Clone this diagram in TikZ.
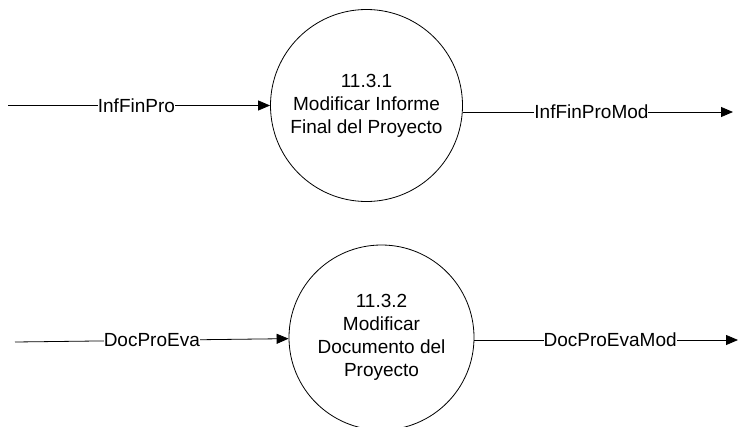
\documentclass[tikz,border=0pt]{standalone}
\usepackage{fontspec}
\setmainfont{Liberation Sans}
\usetikzlibrary{arrows.meta}
\begin{document}
\begin{tikzpicture}[x=1pt,y=-1pt,
  proc/.style={draw=black,line width=0.8pt,circle,align=center,
    font=\fontsize{19}{23}\selectfont},
  flow/.style={draw=black,line width=0.8pt,-{Triangle[length=12pt,width=10pt]}},
  flowlabel/.style={fill=white,inner sep=0pt,font=\fontsize{19}{23}\selectfont}]
\useasboundingbox (0,0) rectangle (741,426);
\clip (0,0) rectangle (741,426);
\node[proc,minimum size=192pt] (c1) at (366.5,105.5) {11.3.1\\Modificar Informe\\Final del Proyecto};
\node[proc,minimum size=185pt] (c2) at (381.5,337.5) {11.3.2\\Modificar\\Documento del\\Proyecto};
\coordinate (s1) at (8,105.5);
\coordinate (e1) at (733,112);
\coordinate (s2) at (15,342);
\coordinate (e2) at (738,340);
\draw[flow] (s1) -- node[flowlabel,pos=0.49] (l1) {InfFinPro} (c1);
\draw[flow] (c1.east |- e1) -- node[flowlabel,pos=0.476] (l2) {InfFinProMod} (e1);
\draw[flow] (s2) -- node[flowlabel,pos=0.5] (l3) {DocProEva} (c2);
\draw[flow] (c2.east |- e2) -- node[flowlabel,pos=0.515] (l4) {DocProEvaMod} (e2);
\end{tikzpicture}
\end{document}
